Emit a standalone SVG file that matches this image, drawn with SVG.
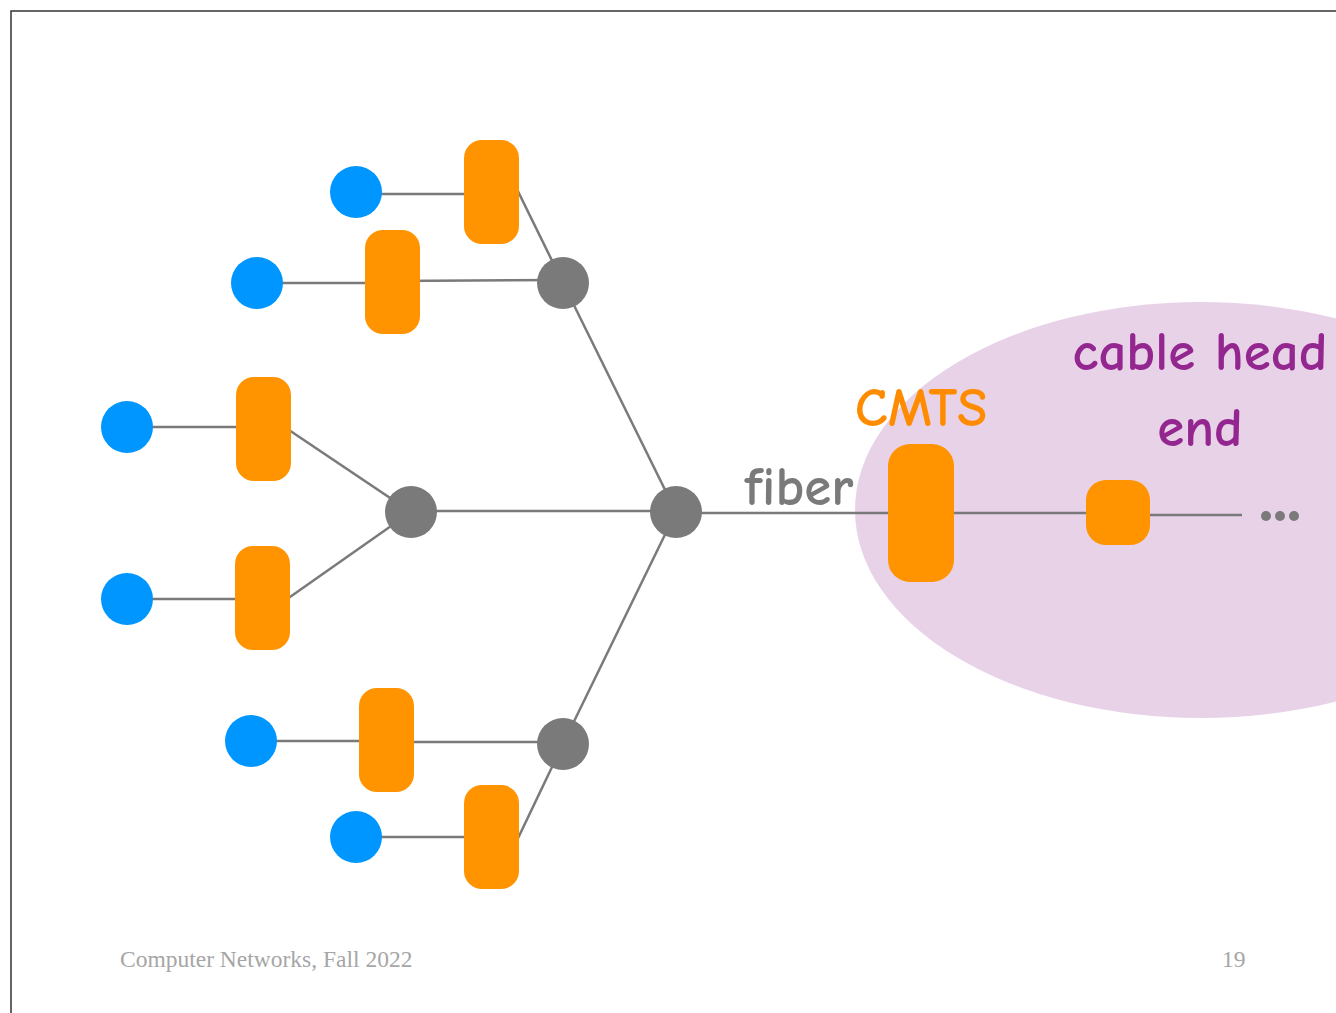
<svg xmlns="http://www.w3.org/2000/svg" width="1336" height="1013" viewBox="0 0 1336 1013">
<style>
.host{fill:#0096FF}
.modem{fill:#FF9300}
.split{fill:#7A7A7A}
.wire{stroke:#7A7A7A;stroke-width:2.5;fill:none}
.hand{font-family:"Comic Neue","Comic Sans MS","Noto Sans","DejaVu Sans",sans-serif;font-size:55px;font-weight:bold}
.foot{font-family:"Liberation Serif",serif;font-size:23.5px;fill:#A6A6A6}
</style>
<rect x="0" y="0" width="1336" height="1013" fill="#fff"/>
<path d="M11 1013 V11 H1336" fill="none" stroke="#333" stroke-width="1.5"/>
<ellipse id="headend" cx="1201" cy="510" rx="346" ry="208" fill="#E8D2E8"/>
<g id="connectors" class="wire">
<line x1="356" y1="194" x2="491" y2="194"/>
<line x1="257" y1="283" x2="392" y2="283"/>
<line x1="127" y1="427" x2="263" y2="427"/>
<line x1="127" y1="599" x2="262" y2="599"/>
<line x1="251" y1="741" x2="386" y2="741"/>
<line x1="356" y1="837" x2="491" y2="837"/>
<line x1="510" y1="175" x2="563" y2="283"/>
<line x1="392" y1="281" x2="563" y2="280"/>
<line x1="280" y1="424" x2="411" y2="512"/>
<line x1="280" y1="604" x2="411" y2="512"/>
<line x1="386" y1="742" x2="563" y2="742"/>
<line x1="510" y1="855" x2="563" y2="744"/>
<line x1="411" y1="511" x2="676" y2="511"/>
<line x1="563" y1="283" x2="676" y2="512"/>
<line x1="563" y1="744" x2="676" y2="512"/>
<line x1="676" y1="513" x2="921" y2="513"/>
<line x1="921" y1="513" x2="1118" y2="513"/>
<line x1="1118" y1="515" x2="1242" y2="515"/>
</g>
<g id="h1"><circle class="host" cx="356" cy="192" r="26"/></g>
<g id="h2"><circle class="host" cx="257" cy="283" r="26"/></g>
<g id="h3"><circle class="host" cx="127" cy="427" r="26"/></g>
<g id="h4"><circle class="host" cx="127" cy="599" r="26"/></g>
<g id="h5"><circle class="host" cx="251" cy="741" r="26"/></g>
<g id="h6"><circle class="host" cx="356" cy="837" r="26"/></g>
<g id="m1"><rect class="modem" x="464" y="140" width="55" height="104" rx="18"/></g>
<g id="m2"><rect class="modem" x="365" y="230" width="55" height="104" rx="18"/></g>
<g id="m3"><rect class="modem" x="236" y="377" width="55" height="104" rx="18"/></g>
<g id="m4"><rect class="modem" x="235" y="546" width="55" height="104" rx="18"/></g>
<g id="m5"><rect class="modem" x="359" y="688" width="55" height="104" rx="18"/></g>
<g id="m6"><rect class="modem" x="464" y="785" width="55" height="104" rx="18"/></g>
<g id="s1"><circle class="split" cx="563" cy="283" r="26"/></g>
<g id="s2"><circle class="split" cx="411" cy="512" r="26"/></g>
<g id="s3"><circle class="split" cx="563" cy="744" r="26"/></g>
<g id="s4"><circle class="split" cx="676" cy="512" r="26"/></g>
<g id="cmts"><rect class="modem" x="888" y="444" width="66" height="138" rx="22"/></g>
<g id="router"><rect class="modem" x="1086" y="480" width="64" height="65" rx="20"/></g>
<g id="dots" fill="#7A7A7A"><circle cx="1266" cy="516" r="5"/><circle cx="1280" cy="516" r="5"/><circle cx="1294" cy="516" r="5"/></g>
<text class="hand" x="799" y="505" fill="#7A7A7A" text-anchor="middle">fiber</text>
<text class="hand" x="921" y="426" fill="#FF8C00" text-anchor="middle">CMTS</text>
<text class="hand" x="1200" y="370" fill="#93278F" text-anchor="middle">cable head</text>
<text class="hand" x="1200" y="446" fill="#93278F" text-anchor="middle">end</text>
<text class="foot" x="120" y="967">Computer Networks, Fall 2022</text>
<text class="foot" x="1222" y="967">19</text>
</svg>
